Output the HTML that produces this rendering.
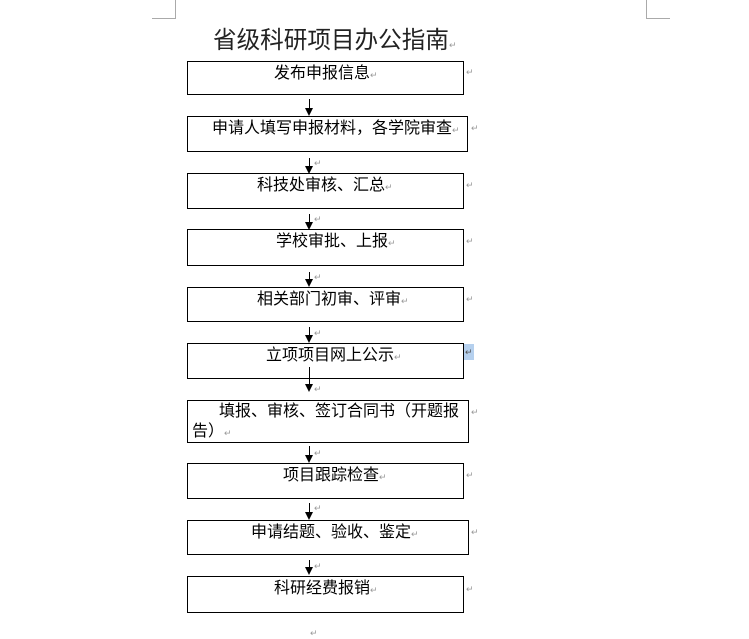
<!DOCTYPE html>
<html><head><meta charset="utf-8"><style>
body{margin:0;width:749px;height:639px;background:#fff;position:relative;overflow:hidden;font-family:"Liberation Sans","Noto Sans CJK SC","WenQuanYi Zen Hei",sans-serif;color:#000}
.b{position:absolute;border:1px solid #000;box-sizing:border-box}
.t{position:absolute;font-size:16px;line-height:18px;white-space:nowrap;margin-top:2px}
.m{color:#999;font-size:9px}
.r{position:absolute;color:#999;font-size:9px}
.v{position:absolute;width:1px;background:#000}
.h{position:absolute;width:0;height:0;border-left:4px solid transparent;border-right:4px solid transparent;border-top:8px solid #000}
.g{position:absolute;background:#aaa}
</style></head><body>
<div class="g" style="left:175px;top:0;width:1px;height:18px"></div>
<div class="g" style="left:152px;top:18px;width:24px;height:1px"></div>
<div class="g" style="left:646px;top:0;width:1px;height:18px"></div>
<div class="g" style="left:646px;top:18px;width:24px;height:1px"></div>
<div class="t" style="left:213px;top:27px;font-size:23.6px;line-height:28px;color:#222;margin-top:0">省级科研项目办公指南<span class="m">↵</span></div>

<div class="b" style="left:187px;top:61px;width:277px;height:34px"></div>
<div class="t" style="left:274px;top:63px">发布申报信息<span class="m">↵</span></div><div class="r" style="left:466px;top:67px">↵</div>
<div class="b" style="left:187px;top:116px;width:281px;height:36px"></div>
<div class="t" style="left:212px;top:118px">申请人填写申报材料，各学院审查<span class="m">↵</span></div><div class="r" style="left:471px;top:123px">↵</div>
<div class="b" style="left:187px;top:173px;width:277px;height:36px"></div>
<div class="t" style="left:257px;top:175px">科技处审核、汇总<span class="m">↵</span></div><div class="r" style="left:466px;top:180px">↵</div>
<div class="b" style="left:187px;top:229px;width:277px;height:37px"></div>
<div class="t" style="left:276px;top:231px">学校审批、上报<span class="m">↵</span></div><div class="r" style="left:466px;top:236px">↵</div>
<div class="b" style="left:187px;top:287px;width:277px;height:35px"></div>
<div class="t" style="left:257px;top:289px">相关部门初审、评审<span class="m">↵</span></div><div class="r" style="left:466px;top:294px">↵</div>
<div class="b" style="left:187px;top:343px;width:277px;height:36px"></div>
<div class="t" style="left:266px;top:345px">立项项目网上公示<span class="m">↵</span></div><div class="r" style="left:464px;top:344px;background:#b5d0ee;color:#555;padding:0 1px;height:16px;line-height:16px">↵</div>
<div class="b" style="left:187px;top:400px;width:282px;height:43px"></div>
<div class="t" style="left:219px;top:401px">填报、审核、签订合同书（开题报</div>
<div class="t" style="left:192px;top:421px">告）<span class="m">↵</span></div><div class="r" style="left:471px;top:407px">↵</div>
<div class="b" style="left:187px;top:463px;width:277px;height:36px"></div>
<div class="t" style="left:283px;top:465px">项目跟踪检查<span class="m">↵</span></div><div class="r" style="left:466px;top:470px">↵</div>
<div class="b" style="left:187px;top:520px;width:282px;height:35px"></div>
<div class="t" style="left:251px;top:522px">申请结题、验收、鉴定<span class="m">↵</span></div><div class="r" style="left:471px;top:527px">↵</div>
<div class="b" style="left:187px;top:576px;width:277px;height:37px"></div>
<div class="t" style="left:274px;top:578px">科研经费报销<span class="m">↵</span></div><div class="r" style="left:466px;top:584px">↵</div>
<div class="r" style="left:310px;top:628px">↵</div>

<div class="v" style="left:309px;top:99px;height:10px"></div><div class="h" style="left:305px;top:108px"></div>
<div class="v" style="left:309px;top:158px;height:9px"></div><div class="h" style="left:305px;top:166px"></div>
<div class="v" style="left:309px;top:214px;height:8px"></div><div class="h" style="left:305px;top:222px"></div>
<div class="v" style="left:309px;top:272px;height:8px"></div><div class="h" style="left:305px;top:279px"></div>
<div class="v" style="left:309px;top:327px;height:8px"></div><div class="h" style="left:305px;top:335px"></div>
<div class="v" style="left:309px;top:367px;height:18px"></div><div class="h" style="left:305px;top:384px"></div>
<div class="v" style="left:309px;top:446px;height:10px"></div><div class="h" style="left:305px;top:455px"></div>
<div class="v" style="left:309px;top:503px;height:9px"></div><div class="h" style="left:305px;top:512px"></div>
<div class="v" style="left:309px;top:560px;height:8px"></div><div class="h" style="left:305px;top:567px"></div>
<div class="r" style="left:314px;top:158px">↵</div><div class="r" style="left:314px;top:214px">↵</div><div class="r" style="left:314px;top:272px">↵</div><div class="r" style="left:314px;top:328px">↵</div><div class="r" style="left:314px;top:384px">↵</div><div class="r" style="left:314px;top:448px">↵</div><div class="r" style="left:314px;top:503px">↵</div><div class="r" style="left:314px;top:561px">↵</div>
</body></html>
